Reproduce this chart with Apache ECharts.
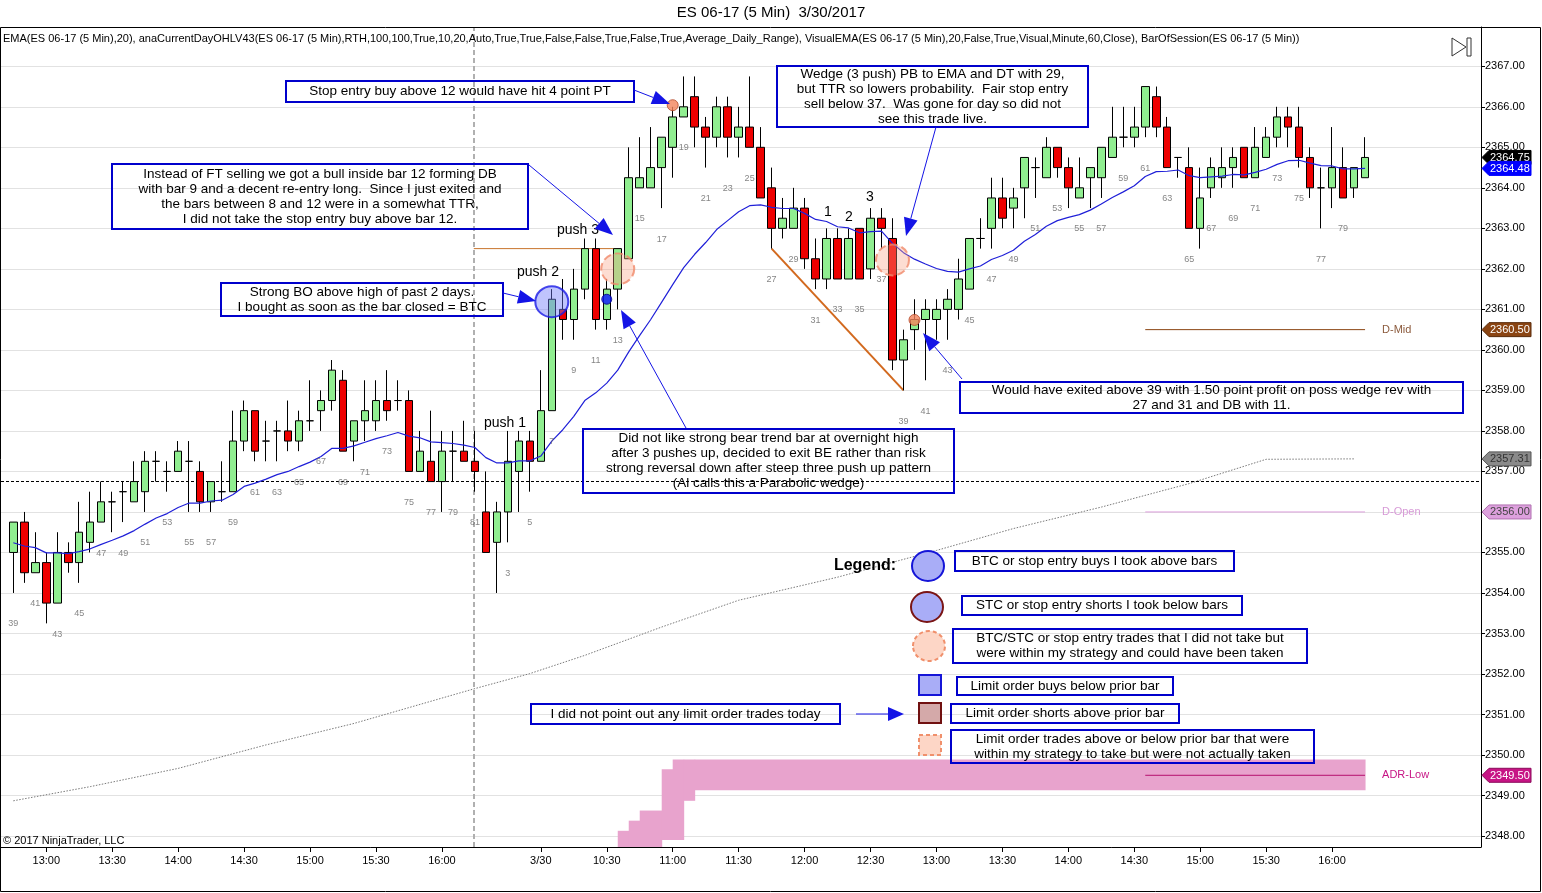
<!DOCTYPE html>
<html><head><meta charset="utf-8">
<script src="https://cdn.jsdelivr.net/npm/echarts@6/dist/echarts.min.js"></script>
<style>html,body{margin:0;padding:0;background:#fff}#c{width:1542px;height:893px}</style>
</head><body><div id="c"></div>
<script>
// ---------------- DATA ----------------
// bar numbers: previous session bars 39..81, then 3/30 session bars 1..81
const prevBarNumbers = []; for (let b = 39; b <= 81; b++) prevBarNumbers.push(b);
const todayBarNumbers = []; for (let b = 1; b <= 81; b++) todayBarNumbers.push(b);

const prevOpen = [2355.0,2355.75,2354.5,2354.75,2353.75,2355.0,2354.75,2355.25,2355.75,2356.25,
 2356.5,2356.25,2356.5,2357.25,2357.0,2357.0,2357.25,2357.0,2356.25,2356.5,
 2356.5,2357.75,2358.5,2357.75,2358.0,2358.0,2357.75,2358.25,2358.5,2358.75,
 2359.25,2357.75,2358.25,2358.25,2358.75,2358.75,2358.75,2357.0,2357.25,2356.75,
 2357.5,2357.5,2357.25];
const prevClose = [2355.75,2354.5,2354.75,2353.75,2355.0,2354.75,2355.5,2355.75,2356.25,2356.25,
 2356.5,2356.75,2357.25,2357.25,2357.0,2357.5,2357.25,2356.25,2356.75,2356.5,
 2357.75,2358.5,2357.5,2357.75,2358.0,2357.75,2358.25,2358.25,2358.75,2359.5,
 2357.5,2358.25,2358.5,2358.75,2358.5,2358.75,2357.0,2357.5,2356.75,2357.5,
 2357.5,2357.25,2357.0];
const prevLow = [2354.0,2354.25,2354.5,2353.25,2353.75,2354.5,2354.25,2355.0,2355.75,2355.5,
 2355.75,2356.25,2356.0,2356.75,2356.5,2357.0,2356.0,2356.0,2356.0,2356.25,
 2356.5,2357.5,2357.25,2357.25,2357.25,2357.5,2357.5,2358.0,2358.0,2358.5,
 2357.5,2357.25,2357.75,2358.0,2358.25,2358.5,2357.0,2357.0,2356.75,2356.0,
 2356.75,2357.25,2356.5];
const prevHigh = [2355.75,2356.0,2355.5,2355.0,2355.5,2355.25,2356.25,2356.5,2356.75,2356.5,
 2356.75,2357.25,2357.5,2357.5,2357.25,2357.75,2357.75,2357.25,2356.75,2357.25,
 2358.5,2358.75,2358.5,2358.25,2358.25,2358.75,2358.5,2359.25,2359.0,2359.75,
 2359.5,2358.25,2359.25,2359.25,2359.5,2359.25,2359.0,2358.0,2358.5,2358.0,
 2358.0,2358.25,2358.0];

const todayOpen = [2356.0,2355.25,2356.0,2357.0,2357.75,2357.25,2358.5,2361.0,2360.75,2361.5,
 2362.5,2360.75,2361.5,2362.25,2364.0,2364.0,2364.5,2365.0,2365.75,2366.25,
 2365.5,2365.25,2366.0,2365.25,2365.5,2365.0,2364.0,2363.0,2363.0,2363.5,
 2362.25,2361.75,2362.75,2361.75,2363.0,2362.0,2363.25,2362.75,2359.75,2360.5,
 2360.75,2360.75,2361.0,2361.0,2361.5,2362.75,2363.0,2363.75,2363.5,2364.0,
 2364.5,2364.25,2365.0,2364.5,2363.75,2364.25,2364.25,2364.75,2365.25,2365.25,
 2365.5,2366.25,2365.5,2364.75,2364.5,2363.0,2364.0,2364.25,2364.5,2365.0,
 2364.25,2364.75,2365.25,2365.75,2365.5,2364.75,2364.0,2364.0,2364.5,2364.0,
 2364.25];
const todayClose = [2355.0,2356.0,2357.25,2357.75,2357.25,2358.5,2361.25,2360.75,2361.5,2362.5,
 2360.75,2361.5,2362.5,2364.25,2364.25,2364.5,2365.25,2365.75,2366.0,2365.5,
 2365.25,2366.0,2365.25,2365.5,2365.0,2363.75,2363.0,2363.25,2363.5,2362.25,
 2361.75,2362.75,2361.75,2362.75,2361.75,2363.25,2363.0,2359.75,2360.25,2360.75,
 2361.0,2361.0,2361.25,2361.75,2362.75,2362.75,2363.75,2363.25,2363.75,2364.75,
 2364.5,2365.0,2364.5,2364.0,2364.0,2364.5,2365.0,2365.25,2365.25,2365.5,
 2366.5,2365.5,2364.5,2364.75,2363.0,2363.75,2364.5,2364.5,2364.75,2364.25,
 2365.0,2365.25,2365.75,2365.5,2364.75,2364.0,2364.0,2364.5,2363.75,2364.5,
 2364.75];
const todayLow = [2355.0,2354.0,2355.25,2356.0,2356.5,2357.25,2358.5,2360.25,2360.25,2361.25,
 2360.5,2360.5,2361.0,2362.25,2364.0,2364.0,2363.5,2364.25,2365.75,2365.0,
 2364.5,2365.0,2364.75,2364.75,2365.0,2363.75,2362.5,2362.75,2363.0,2362.0,
 2361.5,2361.5,2361.75,2361.75,2361.75,2361.75,2362.5,2359.5,2359.0,2360.0,
 2359.25,2360.25,2360.25,2360.75,2361.5,2362.5,2362.5,2363.0,2363.0,2363.25,
 2363.75,2364.25,2364.25,2363.5,2363.75,2363.5,2363.75,2364.75,2365.0,2365.0,
 2365.25,2365.25,2364.5,2364.25,2363.0,2362.5,2363.75,2364.0,2364.0,2364.25,
 2364.25,2364.75,2365.0,2365.0,2364.5,2363.75,2363.0,2363.5,2363.75,2363.75,
 2364.25];
const todayHigh = [2357.0,2356.25,2358.0,2358.0,2358.0,2359.5,2361.5,2361.75,2362.0,2362.75,
 2362.75,2361.75,2362.5,2365.0,2365.25,2365.5,2365.25,2366.0,2366.75,2366.75,
 2365.75,2366.25,2366.25,2366.0,2366.75,2365.5,2364.5,2363.75,2364.0,2363.75,
 2362.75,2363.0,2363.0,2363.0,2363.0,2363.5,2363.5,2363.25,2360.5,2361.25,
 2361.25,2361.25,2361.5,2362.25,2362.75,2363.25,2364.25,2364.25,2364.0,2364.75,
 2364.75,2365.25,2365.0,2364.75,2364.75,2364.5,2365.0,2366.0,2366.0,2366.0,
 2366.5,2366.5,2365.75,2364.75,2365.0,2364.5,2364.75,2365.0,2365.0,2365.0,
 2365.5,2365.5,2366.0,2366.0,2366.0,2365.0,2364.5,2365.5,2365.0,2364.5,
 2365.25];

// EMA(20) as drawn (blue line)
const emaPrev = [2355.24,2355.16,2355.12,2354.99,2354.99,2354.97,2355.02,2355.09,2355.20,2355.30,
 2355.41,2355.54,2355.70,2355.85,2355.96,2356.11,2356.22,2356.22,2356.27,2356.29,
 2356.43,2356.63,2356.71,2356.81,2356.92,2357.00,2357.12,2357.23,2357.37,2357.57,
 2357.57,2357.63,2357.72,2357.81,2357.88,2357.96,2357.87,2357.83,2357.73,2357.71,
 2357.69,2357.65,2357.59];
const emaToday = [2357.34,2357.21,2357.21,2357.26,2357.26,2357.38,2357.75,2358.03,2358.36,2358.75,
 2358.94,2359.18,2359.50,2359.95,2360.36,2360.75,2361.18,2361.61,2362.03,2362.36,
 2362.65,2362.97,2363.19,2363.41,2363.56,2363.58,2363.52,2363.49,2363.49,2363.37,
 2363.22,2363.17,2363.04,2363.01,2362.89,2362.92,2362.93,2362.63,2362.40,2362.24,
 2362.12,2362.01,2361.94,2361.92,2362.00,2362.07,2362.23,2362.33,2362.46,2362.68,
 2362.85,2363.05,2363.19,2363.27,2363.34,2363.45,2363.60,2363.76,2363.90,2364.05,
 2364.28,2364.40,2364.41,2364.44,2364.30,2364.25,2364.27,2364.29,2364.33,2364.32,
 2364.38,2364.46,2364.58,2364.67,2364.68,2364.61,2364.55,2364.54,2364.47,2364.47,
 2364.48];

// gray dotted line (bar index, price)
const greyLineIdx = [0,7,15,23,31,42,47,52,59,66,75,84,91,99,107,114,122];
const greyLineVal = [2348.87,2349.22,2349.67,2350.25,2350.78,2351.64,2352.01,2352.46,2353.16,2353.82,2354.39,2355.05,2355.59,2356.12,2356.70,2357.30,2357.31];

// pink ADR band segments: start index, end index, low, high
const bandStartIdx = [55,56,57,59,60,61,62];
const bandEndIdx   = [56,57,59,60,61,62,123];
const bandLow      = [2347.0,2347.0,2347.0,2347.9,2347.9,2348.87,2349.13];
const bandHigh     = [2348.13,2348.38,2348.63,2349.65,2349.89,2349.89,2349.89];

// levels
const priorCloseLevel = 2356.75;
const dMid = 2360.50, dOpen = 2356.00, adrLow = 2349.50;
const levelStartIdx = 103, levelEndIdx = 123;
const pushHighLevel = 2362.5, pushHighStartIdx = 41.9, pushHighEndIdx = 55.3;
const sessionBreakIdx = 41.9;

// price tags on the axis
const tagValues = [2364.75, 2364.48, 2360.50, 2357.31, 2356.00, 2349.50];

// trade markers (bar index, price)
const markerIdx   = [49, 55, 80, 60, 82, 54];
const markerPrice = [2361.19, 2362.0, 2362.22, 2366.04, 2360.74, 2361.25];

// axis ticks
const timeTickIdx = [3,9,15,21,27,33,39,48,54,60,66,72,78,84,90,96,102,108,114,120];
const timeTickLabels = ['13:00','13:30','14:00','14:30','15:00','15:30','16:00','3/30','10:30','11:00','11:30','12:00','12:30','13:00','13:30','14:00','14:30','15:00','15:30','16:00'];
const priceTicks = []; for (let p = 2348; p <= 2367; p++) priceTicks.push(p);

// ---------------- BUILD ----------------
const barNumbers = prevBarNumbers.concat(todayBarNumbers);
const opens = prevOpen.concat(todayOpen), closes = prevClose.concat(todayClose);
const lows = prevLow.concat(todayLow), highs = prevHigh.concat(todayHigh);
const ema = emaPrev.concat(emaToday);
const N = barNumbers.length;
const candles = [], emaData = [], numLabels = [];
for (let i = 0; i < N; i++) {
  candles.push([i, opens[i], closes[i], lows[i], highs[i]]);
  emaData.push([i, ema[i]]);
  const n = barNumbers[i], today = i >= prevBarNumbers.length;
  if (n % 2 === 1 && !(today && (n === 1 || n === 81))) numLabels.push([i, lows[i], n]);
}
const idxOfToday = b => prevBarNumbers.length + b - 1;
const trendLine = [[idxOfToday(27), lows[idxOfToday(27)]], [idxOfToday(39), lows[idxOfToday(39)]]];
const greyData = greyLineIdx.map((x, k) => [x, greyLineVal[k]]);
const bandData = bandStartIdx.map((s, k) => [s, bandEndIdx[k], bandLow[k], bandHigh[k]]);
const timeLabelOf = {}; timeTickIdx.forEach((v, k) => timeLabelOf[v] = timeTickLabels[k]);

const tagStyles = [
  {bg:'#000000', fg:'#ffffff', bd:'#000'},
  {bg:'#0000ff', fg:'#ffffff', bd:'#0000ff'},
  {bg:'#8b4513', fg:'#ffffff', bd:'#5a2d0c'},
  {bg:'#8a8a8a', fg:'#333333', bd:'#555'},
  {bg:'#dda0dd', fg:'#444444', bd:'#b070b0'},
  {bg:'#c71585', fg:'#ffffff', bd:'#8a0a5a'}
];
const markerStyles = [
  {size:[33,31], style:{color:'rgba(110,120,250,0.55)', borderColor:'#1a1ae6', borderWidth:2}},
  {size:[33,31], style:{color:'rgba(250,160,130,0.45)', borderColor:'#f08a6a', borderWidth:2, borderType:'dashed'}},
  {size:[33,31], style:{color:'rgba(250,160,130,0.45)', borderColor:'#f08a6a', borderWidth:2, borderType:'dashed'}},
  {size:11, style:{color:'#f4845c', borderColor:'#b34a2a', borderWidth:1}},
  {size:11, style:{color:'#f4845c', borderColor:'#b34a2a', borderWidth:1}},
  {size:10, style:{color:'#0a14ff', borderColor:'#000080', borderWidth:1}}
];
const markerData = markerIdx.map((x, k) => ({value:[x, markerPrice[k]], symbolSize: markerStyles[k].size, itemStyle: markerStyles[k].style}));

// ---------------- GRAPHIC ANNOTATIONS ----------------
const FONT = '"Liberation Sans", Arial, sans-serif';
const BLUE = '#0000cc', ABLUE = '#1414e6';
const G = [];
function box(x1, y1, x2, y2, text) {
  G.push({type:'rect', z:100, shape:{x:x1, y:y1, width:x2-x1, height:y2-y1}, style:{fill:null, stroke:BLUE, lineWidth:2}});
  G.push({type:'text', z:101, x:(x1+x2)/2, y:(y1+y2)/2, style:{text:text, font:'13.5px ' + FONT, fill:'#000', align:'center', verticalAlign:'middle', lineHeight:15}});
}
function arrow(x1, y1, x2, y2, hl, hw) {
  hl = hl || 18; hw = hw || 14;
  const a = Math.atan2(y2-y1, x2-x1);
  const bx = x2 - hl*Math.cos(a), by = y2 - hl*Math.sin(a);
  const px = -Math.sin(a)*hw/2, py = Math.cos(a)*hw/2;
  G.push({type:'line', z:102, shape:{x1:x1, y1:y1, x2:bx, y2:by}, style:{stroke:ABLUE, lineWidth:1}});
  G.push({type:'polygon', z:102, shape:{points:[[x2,y2],[bx+px,by+py],[bx-px,by-py]]}, style:{fill:ABLUE}});
}
function txt(x, y, t, size, opts) {
  G.push(Object.assign({type:'text', z:101, x:x, y:y, style:Object.assign({text:t, font:(size||13)+'px ' + FONT, fill:'#000', align:'center', verticalAlign:'middle'}, opts||{})}));
}
txt(771, 13, 'ES 06-17 (5 Min)  3/30/2017', 15);
txt(3, 39, 'EMA(ES 06-17 (5 Min),20), anaCurrentDayOHLV43(ES 06-17 (5 Min),RTH,100,100,True,10,20,Auto,True,True,False,False,True,False,True,Average_Daily_Range), VisualEMA(ES 06-17 (5 Min),20,False,True,Visual,Minute,60,Close), BarOfSession(ES 06-17 (5 Min))', 11, {align:'left'});
txt(3, 841, '\u00a9 2017 NinjaTrader, LLC', 11, {align:'left'});
// frame
G.push({type:'rect', z:99, shape:{x:0.5, y:27.5, width:1540, height:864}, style:{stroke:'#000', lineWidth:1, fill:null}});
// play/end icon
G.push({type:'polygon', z:101, shape:{points:[[1452,38],[1466,47],[1452,56]]}, style:{fill:'#fff', stroke:'#333', lineWidth:1}});
G.push({type:'rect', z:101, shape:{x:1467, y:38, width:4, height:18}, style:{fill:'#fff', stroke:'#333', lineWidth:1}});

box(286, 81, 634, 102, 'Stop entry buy above 12 would have hit 4 point PT');
arrow(634, 90, 670, 104);
box(112, 164, 528, 229, 'Instead of FT selling we got a bull inside bar 12 forming DB\nwith bar 9 and a decent re-entry long.  Since I just exited and\nthe bars between 8 and 12 were in a somewhat TTR,\nI did not take the stop entry buy above bar 12.');
arrow(529, 165, 613, 235);
box(221, 283, 503, 316, 'Strong BO above high of past 2 days.\nI bought as soon as the bar closed = BTC');
arrow(503, 293, 536, 301);
box(583, 429, 954, 493, 'Did not like strong bear trend bar at overnight high\nafter 3 pushes up, decided to exit BE rather than risk\nstrong reversal down after steep three push up pattern\n(Al calls this a Parabolic wedge)');
arrow(686, 428, 621, 310);
box(777, 66, 1088, 127, 'Wedge (3 push) PB to EMA and DT with 29,\nbut TTR so lowers probability.  Fair stop entry\nsell below 37.  Was gone for day so did not\nsee this trade live.');
arrow(936, 127, 906, 236);
box(960, 382, 1463, 413, 'Would have exited above 39 with 1.50 point profit on poss wedge rev with\n27 and 31 and DB with 11.');
arrow(962, 379, 923, 333);
box(531, 704, 840, 724, 'I did not point out any limit order trades today');
arrow(856, 714, 904, 714, 16, 14);

txt(505, 423, 'push 1', 14); txt(538, 272, 'push 2', 14); txt(578, 230, 'push 3', 14);
txt(828, 212, '1', 14); txt(849, 217, '2', 14); txt(870, 197, '3', 14);

// legend
txt(865, 566, 'Legend:', 16, {font:'bold 16px ' + FONT});
G.push({type:'ellipse', z:101, shape:{cx:928, cy:566, rx:16, ry:15}, style:{fill:'#a9adf7', stroke:'#1515d8', lineWidth:2}});
G.push({type:'ellipse', z:101, shape:{cx:927, cy:607, rx:16, ry:15}, style:{fill:'#a9adf7', stroke:'#7a1515', lineWidth:2}});
G.push({type:'ellipse', z:101, shape:{cx:929, cy:646, rx:16, ry:15}, style:{fill:'#fdd6c6', stroke:'#f0906c', lineWidth:2, lineDash:[4,3]}});
G.push({type:'rect', z:101, shape:{x:919, y:675, width:22, height:20}, style:{fill:'#a9adf7', stroke:'#1515d8', lineWidth:2}});
G.push({type:'rect', z:101, shape:{x:919, y:703, width:22, height:20}, style:{fill:'#d4a9a9', stroke:'#701010', lineWidth:2}});
G.push({type:'rect', z:101, shape:{x:919, y:735, width:22, height:20}, style:{fill:'#fdd6c6', stroke:'#f0906c', lineWidth:2, lineDash:[4,3]}});
box(955, 551, 1234, 571, 'BTC or stop entry buys I took above bars');
box(962, 596, 1242, 615, 'STC or stop entry shorts I took below bars');
box(953, 629, 1307, 663, 'BTC/STC or stop entry trades that I did not take but\nwere within my strategy and could have been taken');
box(957, 677, 1173, 695, 'Limit order buys below prior bar');
box(951, 704, 1179, 723, 'Limit order shorts above prior bar');
box(951, 730, 1314, 763, 'Limit order trades above or below prior bar that were\nwithin my strategy to take but were not actually taken');

// ---------------- CHART ----------------
const chart = echarts.init(document.getElementById('c'), null, {renderer:'canvas'});
const option = {
  animation: false,
  backgroundColor: '#fff',
  grid: {left: 1, right: 61, top: 27, bottom: 46, containLabel: false},
  xAxis: {
    type: 'value', min: -1.12, max: 133.55,
    splitLine: {show: false},
    axisLine: {show: true, onZero: false, lineStyle: {color: '#000', width: 1}},
    axisTick: {show: true, customValues: timeTickIdx, length: 5, lineStyle: {color: '#000'}},
    axisLabel: {show: true, customValues: timeTickIdx, formatter: v => timeLabelOf[v] || '', color: '#000', fontSize: 11, fontFamily: 'Liberation Sans', margin: 8}
  },
  yAxis: {
    type: 'value', position: 'right', min: 2347.73, max: 2367.97, minInterval: 1, maxInterval: 1, scale: true,
    axisLine: {show: true, onZero: false, lineStyle: {color: '#000', width: 1}},
    axisTick: {show: true, customValues: priceTicks, length: 4, lineStyle: {color: '#000'}},
    axisLabel: {show: true, customValues: priceTicks, formatter: v => Number(v).toFixed(2), color: '#000', fontSize: 11, fontFamily: 'Liberation Sans', margin: 4},
    splitLine: {show: true, lineStyle: {color: '#e2e2e2', width: 1}}
  },
  graphic: {elements: G},
  series: [
    {type:'custom', name:'adrBand', z:1, clip:true, data: bandData, encode:{x:[0,1], y:[2,3]},
     renderItem: (params, api) => {
       const p0 = api.coord([api.value(0), api.value(3)]);
       const p1 = api.coord([api.value(1), api.value(2)]);
       const cs = params.coordSys;
       const r = echarts.graphic.clipRectByRect({x:p0[0], y:p0[1], width:p1[0]-p0[0]+0.5, height:p1[1]-p0[1]}, {x:cs.x, y:cs.y, width:cs.width, height:cs.height});
       return r ? {type:'rect', shape:r, style:{fill:'#e8a3cd'}} : null;
     }},
    {type:'line', name:'grey', z:2, data: greyData, showSymbol:false, symbol:'none', lineStyle:{color:'#7a7a7a', width:1, type:[1.5,1.5]}, silent:true},
    {type:'line', name:'priorClose', z:2, data: [], markLine:{symbol:'none', silent:true, label:{show:false}, lineStyle:{color:'#000', type:[3,2], width:1}, data:[{yAxis: priorCloseLevel}, {xAxis: sessionBreakIdx, lineStyle:{color:'#b0b0b0', type:[5,3], width:2}}]}},
    {type:'line', name:'pushHigh', z:3, data:[[pushHighStartIdx, pushHighLevel],[pushHighEndIdx, pushHighLevel]], showSymbol:false, symbol:'none', lineStyle:{color:'#c8742c', width:1}},
    {type:'line', name:'trend', z:3, data: trendLine, showSymbol:false, symbol:'none', lineStyle:{color:'#d2691e', width:2}},
    {type:'line', name:'dMid', z:3, data:[[levelStartIdx, dMid],[levelEndIdx, dMid]], showSymbol:false, symbol:'none', lineStyle:{color:'#8b4513', width:1},
     endLabel:{show:true, formatter:'D-Mid', color:'#8b5a3c', fontSize:11, fontFamily:'Liberation Sans', distance:17}},
    {type:'line', name:'dOpen', z:3, data:[[levelStartIdx, dOpen],[levelEndIdx, dOpen]], showSymbol:false, symbol:'none', lineStyle:{color:'#dda0dd', width:1},
     endLabel:{show:true, formatter:'D-Open', color:'#d79ad7', fontSize:11, fontFamily:'Liberation Sans', distance:17}},
    {type:'line', name:'adrLow', z:3, data:[[levelStartIdx, adrLow],[levelEndIdx, adrLow]], showSymbol:false, symbol:'none', lineStyle:{color:'#b5106e', width:1},
     endLabel:{show:true, formatter:'ADR-Low', color:'#c71585', fontSize:11, fontFamily:'Liberation Sans', distance:17}},
    {type:'candlestick', name:'ES', z:5, data: candles, dimensions:['idx','open','close','lowest','highest'],
     encode:{x:'idx', y:['open','close','lowest','highest']}, barWidth: 8,
     itemStyle:{color:'#90ee90', color0:'#ee0000', borderColor:'#000', borderColor0:'#000', borderColorDoji:'#000', borderWidth:1}},
    {type:'line', name:'EMA', z:6, data: emaData, showSymbol:false, symbol:'none', smooth:false, lineStyle:{color:'#2020d8', width:1.2}},
    {type:'scatter', name:'barNums', z:7, data: numLabels, symbolSize:1, itemStyle:{color:'rgba(0,0,0,0)'}, silent:true,
     label:{show:true, position:'inside', offset:[0,31], formatter: p => String(p.value[2]), color:'#666', fontSize:9, fontFamily:'Liberation Sans'}},
    {type:'scatter', name:'markers', z:8, data: markerData, symbol:'circle'},
    {type:'custom', name:'tags', z:20, clip:false, data: tagValues.map((v, k) => [123, v, k]), encode:{x:0, y:1},
     renderItem: (params, api) => {
       const y = api.coord([0, api.value(1)])[1];
       const x0 = params.coordSys.x + params.coordSys.width;
       const st = tagStyles[api.value(2)];
       return {type:'group', children:[
         {type:'polygon', shape:{points:[[x0+1,y],[x0+8,y-7],[x0+50,y-7],[x0+50,y+7],[x0+8,y+7]]}, style:{fill:st.bg, stroke:st.bd, lineWidth:1}},
         {type:'text', style:{text: api.value(1).toFixed(2), x:x0+9, y:y+0.5, verticalAlign:'middle', align:'left', font:'11px "Liberation Sans", Arial', fill:st.fg}}
       ]};
     }}
  ]
};
chart.setOption(option);
</script>
</body></html>
